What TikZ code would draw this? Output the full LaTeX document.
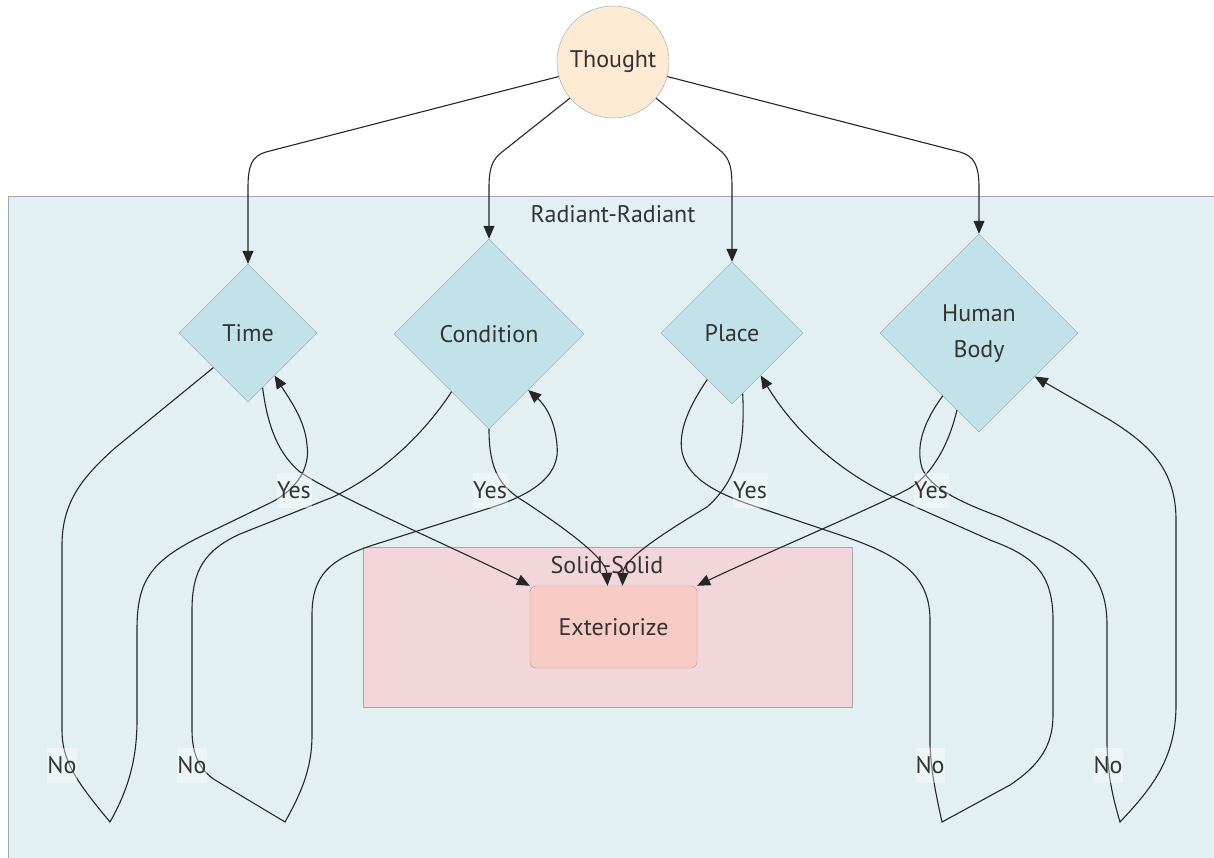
\documentclass[tikz,border=0pt]{standalone}
\usepackage{fontspec}
\setmainfont{PT Sans}
\usetikzlibrary{shapes.geometric,arrows.meta}

\definecolor{txtgray}{HTML}{333333}
\definecolor{clustline}{HTML}{A3A9AB}
\definecolor{nodeline}{HTML}{8FA3A8}
\definecolor{extline}{HTML}{B09A98}
\definecolor{radfill}{HTML}{E2EFF3}
\definecolor{solidfill}{HTML}{F2D6D9}
\definecolor{thoughtfill}{HTML}{FFEBD4}
\definecolor{diamondfill}{HTML}{C2E2EA}
\definecolor{extfill}{HTML}{F9CBC5}

\begin{document}
\begin{tikzpicture}[x=1pt,y=-1pt,
  every node/.style={font=\fontsize{24}{36}\selectfont, text=txtgray},
  decision/.style={diamond, draw=nodeline, fill=diamondfill, inner sep=0pt, aspect=1},
  flow/.style={draw=black!85, line width=1.1pt, -{Triangle[length=13pt,width=11pt]}},
  edgelabel/.style={fill=white, fill opacity=0.4, text opacity=1, inner sep=0pt, minimum height=35pt}
]
	\useasboundingbox (0,0) rectangle (1214,858);
	\clip (0,0) rectangle (1214,858);

	% Clusters
	\draw[clustline, fill=radfill, line width=1pt] (8,197) rectangle (1230,870);
	\node (radlabel) at (613,214) {Radiant-Radiant};
	\draw[clustline, fill=solidfill, line width=1pt] (363,547) rectangle (852,707);
	\node (solidlabel) at (607,565) {Solid-Solid};

	% Nodes
	\node[circle, draw=nodeline, fill=thoughtfill, minimum size=112pt, inner sep=0pt] (thought) at (613,62) {Thought};
	\node[decision, minimum width=138pt, minimum height=138pt] (time) at (248,333) {Time};
	\node[decision, minimum width=190pt, minimum height=190pt] (cond) at (489,334) {Condition};
	\node[decision, minimum width=142pt, minimum height=142pt] (place) at (732,333) {Place};
	\node[decision, minimum width=198pt, minimum height=198pt, align=center, text depth=4pt] (body) at (979,333) {Human\\Body};
	\node[draw=extline, fill=extfill, rounded corners=6pt, minimum width=167pt, minimum height=82pt] (ext) at (613.5,627) {Exteriorize};

	% Thought to the questions
	\draw[flow] (thought.195) -- (266,152) .. controls (252,156) and (248,165) .. (248,188) -- (time.north);
	\draw[flow] (thought.220) -- (502,152) .. controls (492,160) and (489,168) .. (489,188) -- (cond.north);
	\draw[flow] (thought.320) -- (722,152) .. controls (730,160) and (732,168) .. (732,188) -- (place.north);
	\draw[flow] (thought.345) -- (960,152) .. controls (974,156) and (979,165) .. (979,188) -- (body.north);

	% Yes edges
	\draw[flow] (time.-75) .. controls (268,430) and (280,455) .. (300,472) .. controls (340,499) and (470,555) .. (ext.north west);
	\draw[flow] (cond.south) .. controls (489,470) and (500,487) .. (525,502) .. controls (575,535) and (606,560) .. ([xshift=-6pt]ext.north);
	\draw[flow] (place.-80) .. controls (745,440) and (740,478) .. (707,507) .. controls (660,535) and (623,560) .. ([xshift=9pt]ext.north);
	\draw[flow] (body.-106) .. controls (950,440) and (935,472) .. (910,488) .. controls (880,505) and (750,560) .. (ext.north east);

	% No loops
	\draw[flow] (time.south west) -- (115,448) .. controls (85,475) and (62,500) .. (62,545) -- (62,730)
		.. controls (62,760) and (75,780) .. (110,822) .. controls (128,790) and (137,760) .. (137,720) -- (137,630)
		.. controls (137,580) and (150,560) .. (210,532) -- (270,503) .. controls (300,488) and (310,465) .. (307,445)
		.. controls (305,420) and (290,400) .. (time.-58);
	\draw[flow] (cond.-123) .. controls (430,425) and (390,470) .. (333,497) -- (240,534) .. controls (205,550) and (192,570) .. (192,610)
		-- (192,730) .. controls (192,755) and (200,770) .. (215,780) -- (285,822) .. controls (300,795) and (312,770) .. (312,735)
		-- (312,615) .. controls (312,575) and (330,560) .. (370,546) -- (490,508) .. controls (540,492) and (560,472) .. (557,445)
		.. controls (555,420) and (545,405) .. (cond.-55);
	\draw[flow] (place.-118) .. controls (690,405) and (678,430) .. (682,452) .. controls (688,480) and (720,495) .. (760,508)
		-- (840,535) .. controls (900,555) and (930,575) .. (930,620) -- (930,745) .. controls (931,770) and (935,790) .. (942,822)
		-- (1010,785) .. controls (1040,765) and (1053,745) .. (1053,715) -- (1053,620) .. controls (1053,570) and (1030,555) .. (990,540)
		-- (900,500) .. controls (850,478) and (800,440) .. (place.-56);
	\draw[flow] (body.-120) .. controls (925,420) and (915,445) .. (922,468) .. controls (930,488) and (960,502) .. (1000,517)
		-- (1050,540) .. controls (1090,560) and (1107,585) .. (1107,625) -- (1107,745) .. controls (1108,775) and (1112,795) .. (1120,822)
		.. controls (1150,790) and (1176,760) .. (1176,705) -- (1176,520) .. controls (1176,470) and (1150,445) .. (1110,420)
		-- (body.-38);

	% Edge labels
	\node[edgelabel, minimum width=35pt] (yestime) at (294,490) {Yes};
	\node[edgelabel, minimum width=35pt] (yescond) at (490,490) {Yes};
	\node[edgelabel, minimum width=35pt] (yesplace) at (750,490) {Yes};
	\node[edgelabel, minimum width=35pt] (yesbody) at (931,490) {Yes};
	\node[edgelabel, minimum width=28pt] (notime) at (62,765) {No};
	\node[edgelabel, minimum width=28pt] (nocond) at (192,765) {No};
	\node[edgelabel, minimum width=28pt] (noplace) at (930,765) {No};
	\node[edgelabel, minimum width=28pt] (nobody) at (1108,765) {No};
\end{tikzpicture}
\end{document}
